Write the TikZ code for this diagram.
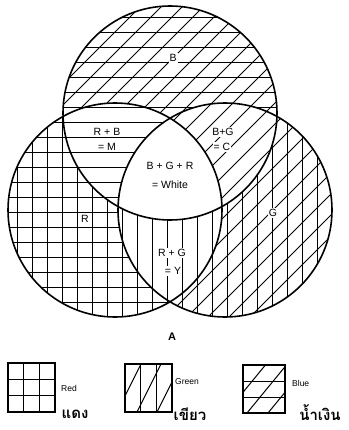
\documentclass[tikz,border=0pt]{standalone}
\usepackage{fontspec}
\setmainfont{Liberation Sans}
\newfontfamily\thaifont[Script=Thai]{Loma}
\begin{document}
\begin{tikzpicture}[x=1pt,y=-1pt,
  outline/.style={line width=1.6pt},
  hatch/.style={line width=1pt},
  lab/.style={font=\fontsize{10.5}{11}\selectfont, fill=white, inner sep=1pt},
  leg/.style={font=\fontsize{8.5}{9}\selectfont, anchor=west, inner sep=0pt},
  thai/.style={font=\thaifont\bfseries\fontsize{15}{16}\selectfont, inner sep=0pt}]
\useasboundingbox (0,0) rectangle (348,430);
\newcommand\hpart{\foreach \yy in {2.5,17.5,...,332.5} {(-5,\yy) -- (353,\yy)}}
\newcommand\vpart{\foreach \xx in {2.5,17.5,...,347.5} {(\xx,-5) -- (\xx,340)}}
\newcommand\dpart{\foreach \cc in {0,21,...,700} {(\cc,0) -- ({\cc-340},340)}}
% blue: H + D
\begin{scope}
  \clip (170,113) circle[radius=107pt];
  \draw[hatch] \hpart;
  \draw[hatch] \dpart;
\end{scope}
% red: H + V
\begin{scope}
  \clip (115,210) circle[radius=107pt];
  \fill[white] (0,0) rectangle (348,340);
  \draw[hatch] \hpart;
  \draw[hatch] \vpart;
\end{scope}
% green: V + D
\begin{scope}
  \clip (225,210) circle[radius=107pt];
  \fill[white] (0,0) rectangle (348,340);
  \draw[hatch] \vpart;
  \draw[hatch] \dpart;
\end{scope}
% R and B: H
\begin{scope}
  \clip (115,210) circle[radius=107pt];
  \clip (170,113) circle[radius=107pt];
  \fill[white] (0,0) rectangle (348,340);
  \draw[hatch] \hpart;
\end{scope}
% R and G: V
\begin{scope}
  \clip (115,210) circle[radius=107pt];
  \clip (225,210) circle[radius=107pt];
  \fill[white] (0,0) rectangle (348,340);
  \draw[hatch] \vpart;
\end{scope}
% B and G: D
\begin{scope}
  \clip (170,113) circle[radius=107pt];
  \clip (225,210) circle[radius=107pt];
  \fill[white] (0,0) rectangle (348,340);
  \draw[hatch] \dpart;
\end{scope}
% all three: white
\begin{scope}
  \clip (170,113) circle[radius=107pt];
  \clip (225,210) circle[radius=107pt];
  \clip (115,210) circle[radius=107pt];
  \fill[white] (0,0) rectangle (348,340);
\end{scope}
% outlines
\draw[outline] (170,113) circle[radius=107pt];
\draw[outline] (115,210) circle[radius=107pt];
\draw[outline] (225,210) circle[radius=107pt];
% labels
\node[lab] (lb) at (173,58) {B};
\node[lab] (lrb1) at (107,132) {R + B};
\node[lab] (lrb2) at (107,147) {= M};
\node[lab] (lbg1) at (223,132) {B+G};
\node[lab] (lbg2) at (222,147) {= C};
\node[lab] (lw1) at (170,166) {B + G + R};
\node[lab] (lw2) at (170,185) {= White};
\node[lab] (lr) at (85,219) {R};
\node[lab] (lg) at (273,213) {G};
\node[lab] (lrg1) at (172,253) {R + G};
\node[lab] (lrg2) at (173,271) {= Y};
\node[font=\fontsize{11}{12}\selectfont\bfseries] (la) at (172,337) {A};
% legend: red
\draw[line width=1pt] (8,379.3) -- (55,379.3) (8,395.7) -- (55,395.7)
  (23.7,363) -- (23.7,412) (39.3,363) -- (39.3,412);
\draw[outline] (8,363) rectangle (55,412);
\node[leg] (tred) at (61,388) {Red};
\node[thai] (thred) at (75,414) {แดง};
% legend: green
\begin{scope}
  \clip (125,364) rectangle (172,412);
  \draw[line width=1pt] (140.7,364) -- (140.7,412) (156.3,364) -- (156.3,412);
  \foreach \xb in {117,137,157} \draw[line width=1pt] (\xb,412) -- ({\xb+24},364);
\end{scope}
\draw[outline] (125,364) rectangle (172,412);
\node[leg] (tgreen) at (175,382) {Green};
\node[thai] (thgreen) at (190,414) {เขียว};
% legend: blue
\begin{scope}
  \clip (243,365) rectangle (285,413);
  \draw[line width=1pt] (243,381) -- (285,381) (243,397) -- (285,397);
  \foreach \xb in {226,247,268} \draw[line width=1pt] (\xb,413) -- ({\xb+39.4},365);
\end{scope}
\draw[outline] (243,365) rectangle (285,413);
\node[leg] (tblue) at (292,383) {Blue};
\node[thai] (thblue) at (320,413) {น้ำเงิน};
\end{tikzpicture}
\end{document}
